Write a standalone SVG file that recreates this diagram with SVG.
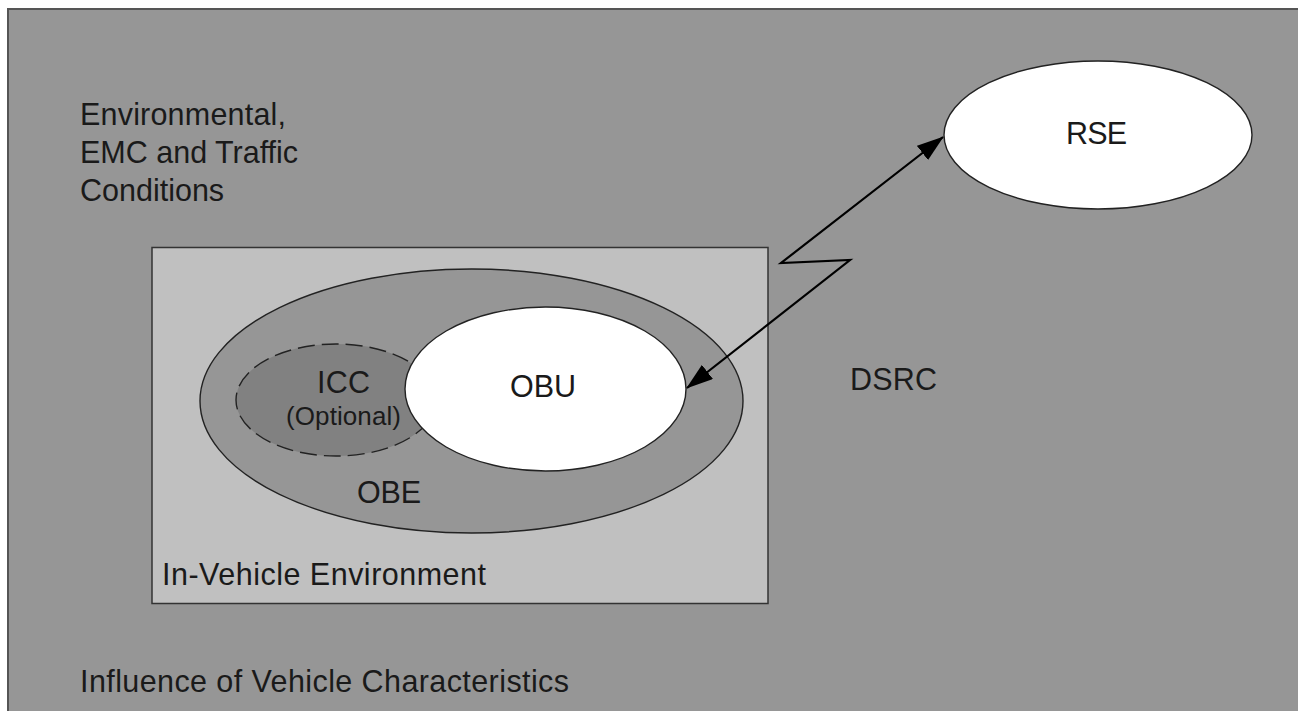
<svg xmlns="http://www.w3.org/2000/svg" width="1298" height="711" viewBox="0 0 1298 711">
<defs>
<style>
.t{font-family:"Liberation Sans",Arial,sans-serif;font-size:30.5px;fill:#1a1a1a}
.s{font-family:"Liberation Sans",Arial,sans-serif;font-size:26px;fill:#1a1a1a}
.e{stroke:#222;stroke-width:1.4}
</style>
<marker id="ah" viewBox="0 0 27 18" refX="26" refY="9" markerWidth="27" markerHeight="18" markerUnits="userSpaceOnUse" orient="auto-start-reverse">
<path d="M0,0 L27,9 L0,18 z" fill="#000"/>
</marker>
</defs>
<rect x="0" y="0" width="1298" height="711" fill="#ffffff"/>
<g id="outer">
<rect x="8" y="9" width="1300" height="720" fill="#969696" stroke="#555" stroke-width="2"/>
<text class="t" x="80" y="125" textLength="206">Environmental,</text>
<text class="t" x="80" y="163">EMC and Traffic</text>
<text class="t" x="80" y="201">Conditions</text>
<text class="t" x="80" y="692" textLength="489">Influence of Vehicle Characteristics</text>
<text class="t" x="850" y="390" textLength="87">DSRC</text>
</g>
<g id="in-vehicle">
<rect x="152" y="247.5" width="616" height="356" fill="#c0c0c0" stroke="#333" stroke-width="1.5"/>
<text class="t" x="162" y="585" textLength="324">In-Vehicle Environment</text>
</g>
<g id="obe">
<ellipse cx="471.5" cy="401" rx="271.5" ry="132" fill="#969696" class="e"/>
<text class="t" x="357" y="503" textLength="64">OBE</text>
</g>
<g id="icc">
<ellipse cx="336" cy="400" rx="100" ry="56" fill="#818181" stroke="#222" stroke-width="1.4" stroke-dasharray="17,7"/>
<text class="t" x="317" y="393" textLength="53">ICC</text>
<text class="s" x="286" y="425" textLength="115">(Optional)</text>
</g>
<g id="obu">
<ellipse cx="545.5" cy="389" rx="140.5" ry="82" fill="#ffffff" class="e"/>
<text class="t" x="510" y="397" textLength="66">OBU</text>
</g>
<g id="rse">
<ellipse cx="1098" cy="135" rx="154" ry="74" fill="#ffffff" class="e"/>
<text class="t" x="1066" y="144" textLength="61">RSE</text>
</g>
<g id="connectors">
<path d="M687,388 L850,260 L781,263 L943,137" fill="none" stroke="#000" stroke-width="2.2" marker-start="url(#ah)" marker-end="url(#ah)"/>
</g>
</svg>
